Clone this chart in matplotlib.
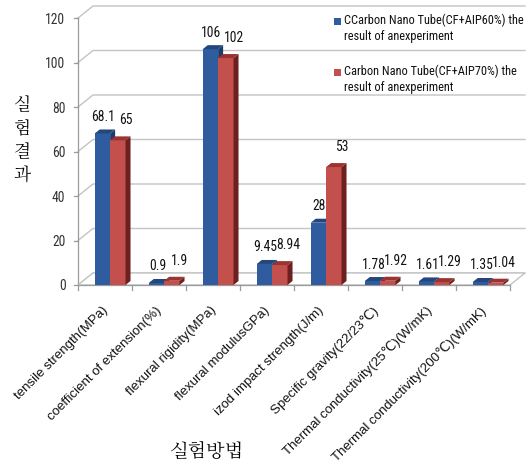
import matplotlib
matplotlib.use("Agg")
import matplotlib.pyplot as plt
from matplotlib.patches import Polygon, Rectangle

categories = [
    "tensile strength(MPa)",
    "coefficient of extension(%)",
    "flexural rigidity(MPa)",
    "flexural modulusGPa)",
    "izod impact strength(J/m)",
    "Specific gravity(22/23\u2103)",
    "Thermal conductivity(25\u2103)(W/mK)",
    "Thermal conductivity(200\u2103)(W/mK)",
]
series60 = [68.1, 0.9, 106, 9.45, 28, 1.78, 1.61, 1.35]
series70 = [65, 1.9, 102, 8.94, 53, 1.92, 1.29, 1.04]
labels60 = ["68.1", "0.9", "106", "9.45", "28", "1.78", "1.61", "1.35"]
labels70 = ["65", "1.9", "102", "8.94", "53", "1.92", "1.29", "1.04"]
legend60 = "CCarbon Nano Tube(CF+AIP60%) the\nresult of anexperiment"
legend70 = "Carbon Nano Tube(CF+AIP70%) the\nresult of anexperiment"
yticks = [0, 20, 40, 60, 80, 100, 120]

narrow = ['Roboto Condensed', 'DejaVu Sans']
plt.rcParams['font.family'] = narrow
kfont = ['NanumMyeongjo', 'Noto Sans CJK KR', 'DejaVu Sans']
tickfont = ['Liberation Sans', 'DejaVu Sans']

W, H = 529, 469
fig = plt.figure(figsize=(W / 100, H / 100), dpi=100)
fig.patch.set_facecolor('white')

x0p, x1p, y0p, y1p = 78, 510, 285, 18   # pixel frame of the front plane
ax = fig.add_axes([x0p / W, 1 - y0p / H, (x1p - x0p) / W, (y0p - y1p) / H])
n = len(categories)
ax.set_xlim(0, n)
ax.set_ylim(0, 120)
ax.patch.set_alpha(0)
for s in ax.spines.values():
    s.set_visible(False)

pxx = (x1p - x0p) / n        # pixels per category
pxy = (y0p - y1p) / 120.0    # pixels per value unit
def dx(p): return p / pxx
def dy(p): return p / pxy

gcol = '#c4c4c4'
bx, by = dx(15), dy(12)
for v in yticks:
    ax.plot([0, bx, n + bx], [v, v + by, v + by], color=gcol, lw=1.0, clip_on=False, zorder=1)
    ax.plot([-dx(4), 0], [v, v], color='#9a9a9a', lw=0.9, clip_on=False, zorder=1)
ax.plot([0, 0], [0, 120], color='#9a9a9a', lw=0.9, clip_on=False, zorder=1)
ax.add_patch(Polygon([(0, 0), (n, 0), (n + bx, by), (bx, by)], closed=True,
                     facecolor='white', edgecolor=gcol, lw=1.0, clip_on=False, zorder=1.5))
ax.plot([0, n], [0, 0], color='#9a9a9a', lw=0.9, clip_on=False, zorder=1.6)
for i in range(n + 1):
    ax.plot([i, i], [0, -dy(5)], color='#9a9a9a', lw=0.9, clip_on=False, zorder=1.6)

blue_f, blue_s, blue_t = '#2e5c9e', '#1d3c6a', '#23477c'
red_f, red_s, red_t = '#c4504d', '#6e1f1f', '#9b3330'
w = 0.285
off1, off2 = 0.31, 0.31 + w
ddx, ddy = dx(5), dy(4)
pos1 = [i + off1 for i in range(n)]
pos2 = [i + off2 for i in range(n)]

def faces(x, v, side, top, z):
    ax.add_patch(Polygon([(x + w, 0), (x + w + ddx, ddy), (x + w + ddx, v + ddy), (x + w, v)],
                         closed=True, facecolor=side, edgecolor='none', zorder=z, clip_on=False))
    ax.add_patch(Polygon([(x, v), (x + w, v), (x + w + ddx, v + ddy), (x + ddx, v + ddy)],
                         closed=True, facecolor=top, edgecolor='none', zorder=z, clip_on=False))

for i in range(n):
    ax.bar(pos1[i], series60[i], width=w, align='edge', color=blue_f, zorder=3, clip_on=False)
    faces(pos1[i], series60[i], blue_s, blue_t, 3)
    ax.bar(pos2[i], series70[i], width=w, align='edge', color=red_f, zorder=4, clip_on=False)
    faces(pos2[i], series70[i], red_s, red_t, 4)

for i in range(n):
    ax.annotate(labels60[i], (pos1[i] + w / 2, series60[i]), xytext=(1 * 0.72, 16.5 * 0.72),
                textcoords='offset points', ha='center', va='center', fontsize=9.8, color='#111111', zorder=6)
    ax.annotate(labels70[i], (pos2[i] + w / 2, series70[i]), xytext=(8 * 0.72, 20 * 0.72),
                textcoords='offset points', ha='center', va='center', fontsize=9.8, color='#111111', zorder=6)

ax.set_yticks(yticks)
ax.set_yticklabels([str(v) for v in yticks], fontsize=9.8, color='#333333')
ax.tick_params(axis='y', length=0, pad=9)
ax.set_xticks([i + 0.44 for i in range(n)])
ax.set_xticklabels(categories, rotation=45, ha='right', va='top', rotation_mode='anchor',
                   fontsize=9.5, family=tickfont, color='#111111')
ax.tick_params(axis='x', length=0, pad=14)

fig.text(22 / W, 1 - 140 / H, "실\n험\n결\n과", family=kfont, fontsize=13,
         ha='center', va='center', linespacing=1.35)
fig.text(206 / W, 1 - 452 / H, "실험방법", family=kfont, fontsize=14, ha='center', va='center')

for (yy, col, txt) in [(22, blue_f, legend60), (73, red_f, legend70)]:
    fig.patches.append(Rectangle((334 / W, 1 - (yy + 3.5) / H), 7 / W, 7 / H,
                                 transform=fig.transFigure, facecolor=col, edgecolor='none'))
    fig.text(344 / W, 1 - (yy - 8) / H, txt, fontsize=8.9, ha='left', va='top',
             linespacing=1.3, color='#111111')

fig.savefig("out.png", dpi=100)
